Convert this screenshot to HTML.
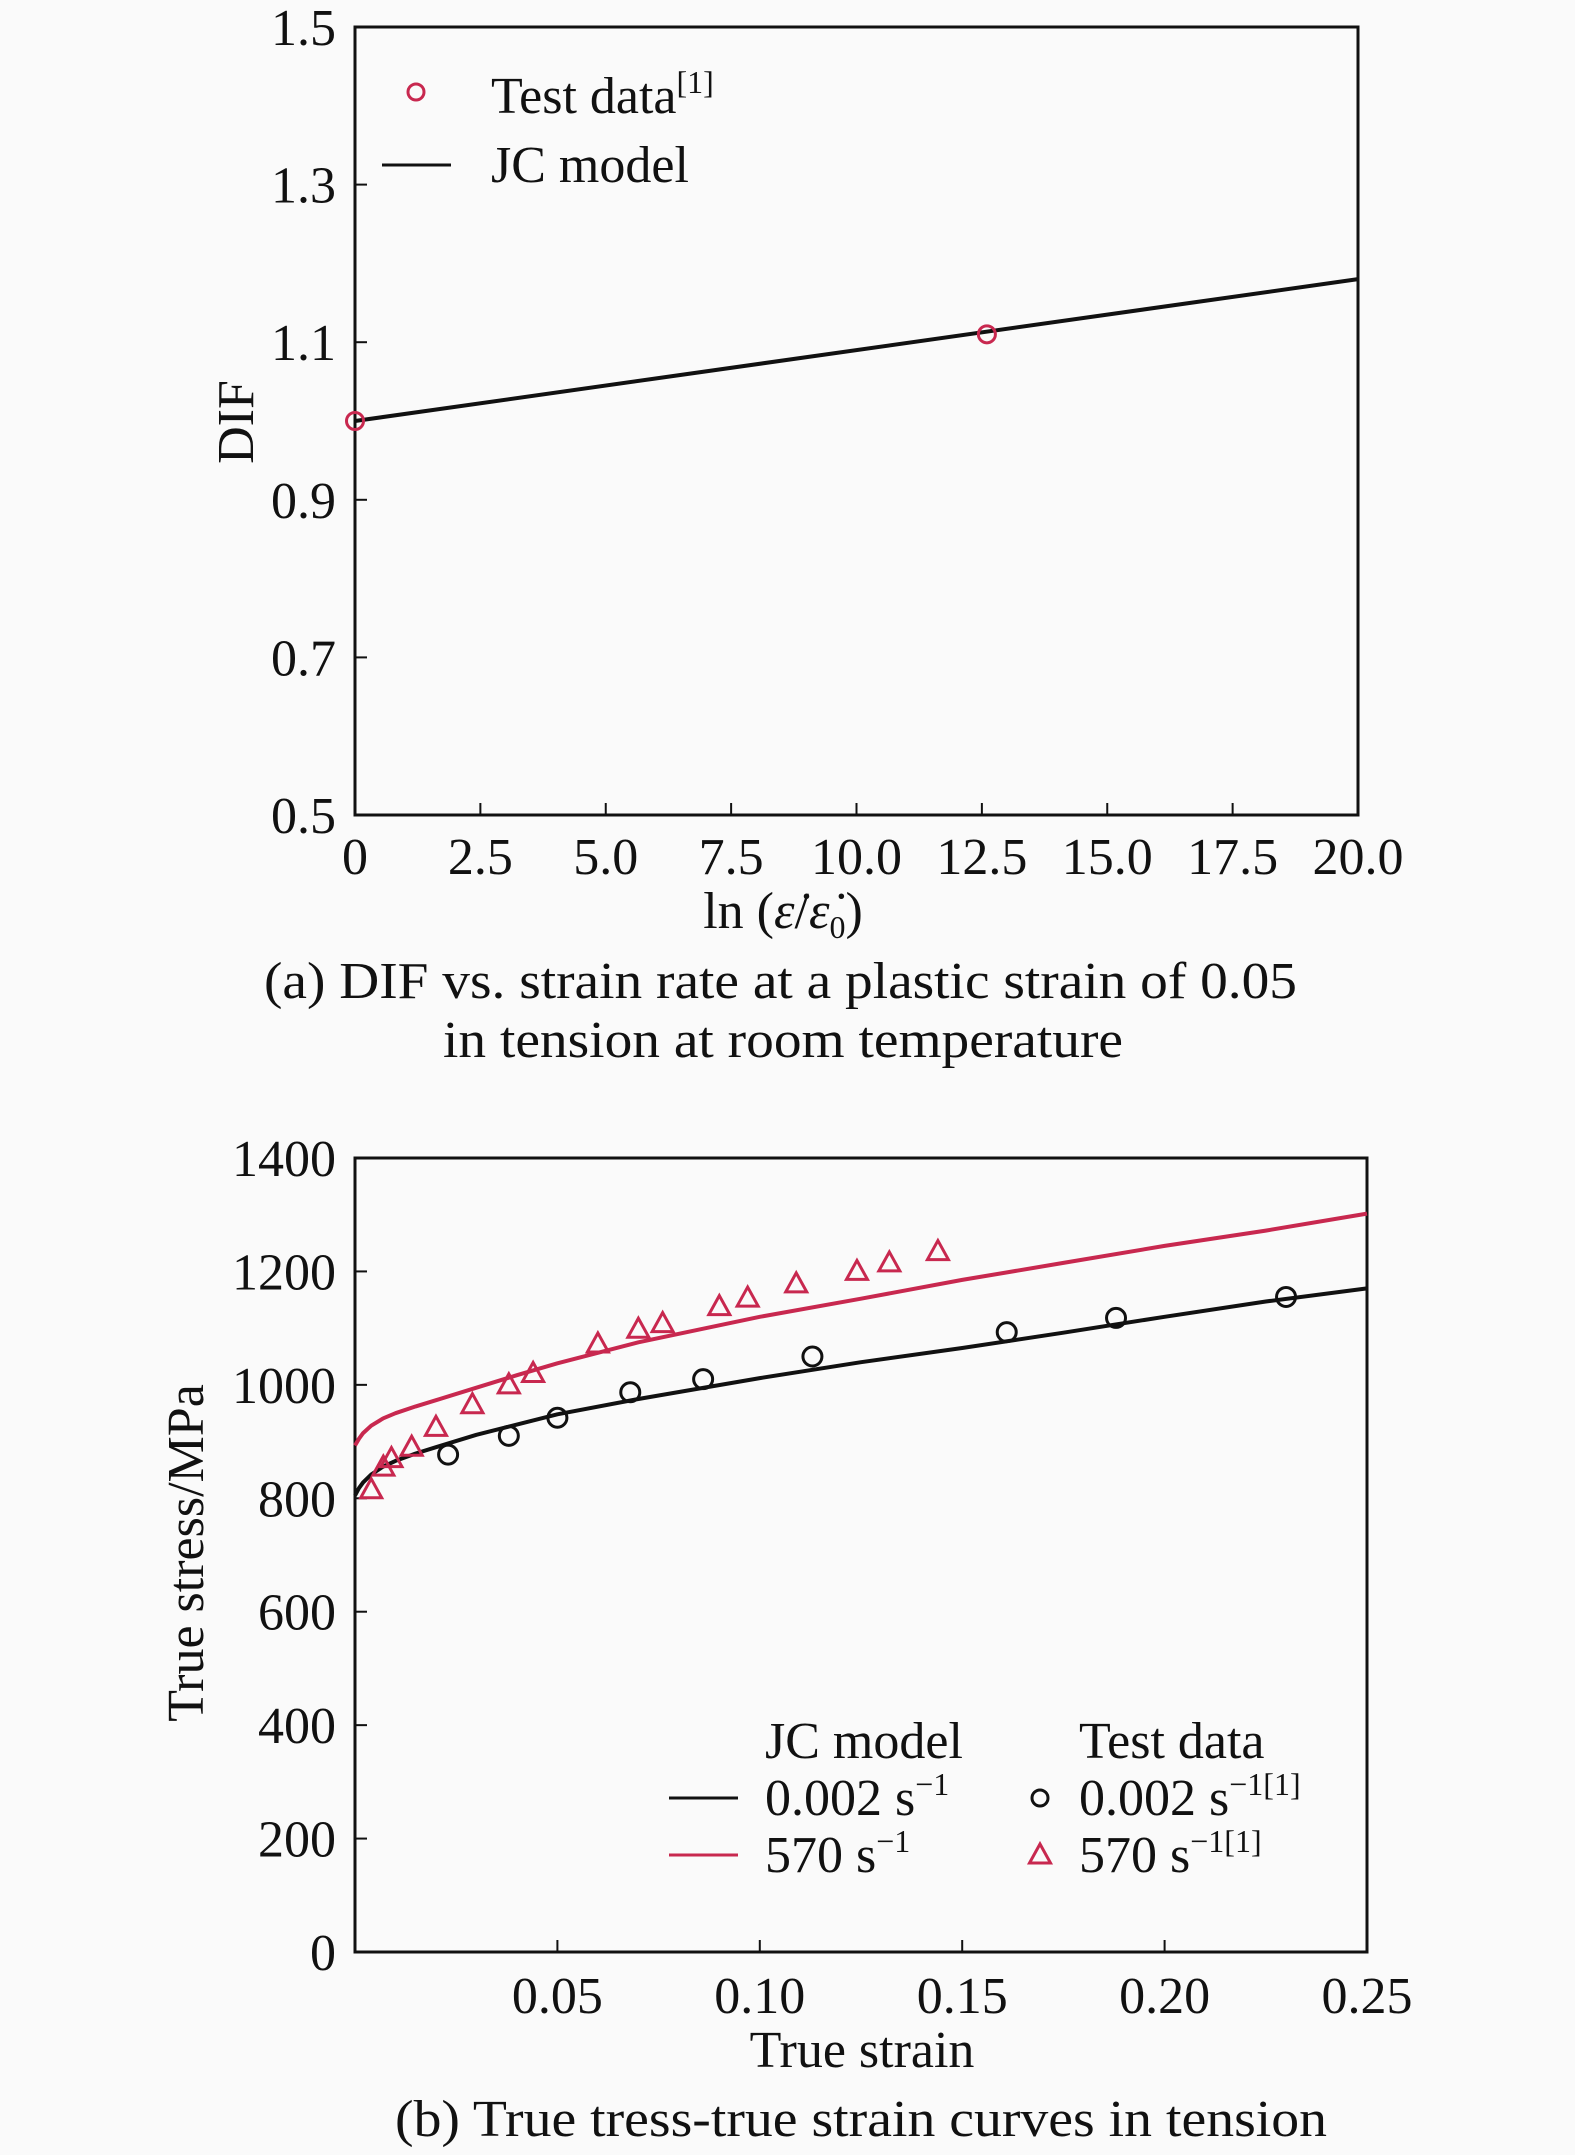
<!DOCTYPE html>
<html><head><meta charset="utf-8"><style>
html,body{margin:0;padding:0;background:#fafafa;}
svg{display:block;font-family:"Liberation Serif",serif;}
text{fill:#111;}
</style></head><body>
<svg id="fig" width="1575" height="2155" viewBox="0 0 1575 2155" xmlns="http://www.w3.org/2000/svg">
<rect width="1575" height="2155" fill="#fafafa"/>
<g id="chartA"></g>
<g id="chartB"></g>
</svg>
<script>
// ---- Chart A data ----
const aXTicks = [0, 2.5, 5, 7.5, 10, 12.5, 15, 17.5, 20];
const aXTickLabels = ["0", "2.5", "5.0", "7.5", "10.0", "12.5", "15.0", "17.5", "20.0"];
const aYTicks = [0.5, 0.7, 0.9, 1.1, 1.3, 1.5];
const aYTickLabels = ["0.5", "0.7", "0.9", "1.1", "1.3", "1.5"];
const aModelX = [0, 20];
const aModelY = [1.0, 1.18];
const aTestX = [0, 12.6];
const aTestY = [1.0, 1.11];

// ---- Chart B data ----
const bXTicks = [0.05, 0.10, 0.15, 0.20, 0.25];
const bXTickLabels = ["0.05", "0.10", "0.15", "0.20", "0.25"];
const bYTicks = [0, 200, 400, 600, 800, 1000, 1200, 1400];
const bYTickLabels = ["0", "200", "400", "600", "800", "1000", "1200", "1400"];
const bModelStrain = [0, 0.001, 0.002, 0.004, 0.007, 0.01, 0.015, 0.02, 0.03, 0.04, 0.05, 0.07, 0.1, 0.125, 0.15, 0.175, 0.2, 0.225, 0.25];
const bModelLow = [805, 818, 828, 842, 856, 866, 879, 890, 912, 930, 948, 975, 1012, 1040, 1065, 1092, 1120, 1147, 1170];
const bModelHigh = [893, 905, 915, 928, 941, 950, 962, 973, 995, 1017, 1038, 1075, 1120, 1152, 1185, 1215, 1245, 1272, 1302];
const bTestLowX = [0.023, 0.038, 0.05, 0.068, 0.086, 0.113, 0.161, 0.188, 0.23];
const bTestLowY = [877, 910, 942, 987, 1010, 1050, 1093, 1118, 1155];
const bTestHighX = [0.004, 0.007, 0.009, 0.014, 0.02, 0.029, 0.038, 0.044, 0.06, 0.07, 0.076, 0.09, 0.097, 0.109, 0.124, 0.132, 0.144];
const bTestHighY = [815, 855, 870, 890, 925, 965, 1000, 1020, 1072, 1098, 1108, 1138, 1153, 1178, 1200, 1215, 1235];

const NS = "http://www.w3.org/2000/svg";
const RED = "#c8284f";
function mk(parent, tag, attrs, txt) {
  const e = document.createElementNS(NS, tag);
  for (const k in attrs) e.setAttribute(k, attrs[k]);
  if (txt !== undefined) e.textContent = txt;
  parent.appendChild(e);
  return e;
}
function lin(d0, d1, r0, r1) { return v => r0 + (v - d0) * (r1 - r0) / (d1 - d0); }

// ===== Chart A =====
(function () {
  const g = document.getElementById('chartA');
  const L = 355, R = 1358, T = 27, B = 815;
  const sx = lin(0, 20, L, R), sy = lin(0.5, 1.5, B, T);
  const frame = mk(g, 'rect', {x: L, y: T, width: R - L, height: B - T, fill: 'none', stroke: '#111', 'stroke-width': 3});
  
  
  aXTicks.forEach((v, i) => {
    const t = mk(g, 'line', {x1: sx(v), x2: sx(v), y1: B, y2: B - 12, stroke: '#111', 'stroke-width': 2});
    
    
    const lb = mk(g, 'text', {x: sx(v), y: 874, 'font-size': 52, 'text-anchor': 'middle'}, aXTickLabels[i]);
    
    
  });
  aYTicks.forEach((v, i) => {
    const t = mk(g, 'line', {x1: L, x2: L + 12, y1: sy(v), y2: sy(v), stroke: '#111', 'stroke-width': 2});
    
    
    const lb = mk(g, 'text', {x: 336, y: sy(v) + 18, 'font-size': 52, 'text-anchor': 'end'}, aYTickLabels[i]);
    
    
  });
  const ln = mk(g, 'line', {x1: sx(aModelX[0]), y1: sy(aModelY[0]), x2: sx(aModelX[1]), y2: sy(aModelY[1]), stroke: '#111', 'stroke-width': 4});
  
  
  aTestX.forEach((v, i) => {
    const c = mk(g, 'circle', {cx: sx(v), cy: sy(aTestY[i]), r: 8.5, fill: 'none', stroke: RED, 'stroke-width': 3});
    
    
  });
  const lc = mk(g, 'circle', {cx: 416, cy: 92, r: 8, fill: 'none', stroke: RED, 'stroke-width': 3});
  
  
  const lt = mk(g, 'text', {x: 491, y: 113, 'font-size': 52}, 'Test data');
  
  
  mk(lt, 'tspan', {'font-size': 32, dy: -20}, '[1]');
  const ll = mk(g, 'line', {x1: 382, x2: 451, y1: 165, y2: 165, stroke: '#111', 'stroke-width': 3});
  
  
  const ltx = mk(g, 'text', {x: 491, y: 182, 'font-size': 52}, 'JC model');
  
  
  const yt = mk(g, 'text', {x: 0, y: 0, 'font-size': 52, 'text-anchor': 'middle', transform: 'translate(253,422) rotate(-90)'}, 'DIF');
  
  
  const xt = mk(g, 'text', {x: 783, y: 928, 'font-size': 52, 'text-anchor': 'middle'});
  
  
  xt.innerHTML = 'ln (<tspan font-style="italic">ε̇</tspan>/<tspan font-style="italic">ε̇</tspan><tspan font-size="32" dy="10">0</tspan><tspan dy="-10">)</tspan>';
  const c1 = mk(g, 'text', {x: 264, y: 998, 'font-size': 52, textLength: 1033, lengthAdjust: 'spacingAndGlyphs'}, '(a) DIF vs. strain rate at a plastic strain of 0.05');
  
  
  const c2 = mk(g, 'text', {x: 443, y: 1057, 'font-size': 52, textLength: 680, lengthAdjust: 'spacingAndGlyphs'}, 'in tension at room temperature');
  
  
})();

// ===== Chart B =====
(function () {
  const g = document.getElementById('chartB');
  const L = 355, R = 1367, T = 1158, B = 1952;
  const sx = lin(0, 0.25, L, R), sy = lin(0, 1400, B, T);
  const frame = mk(g, 'rect', {x: L, y: T, width: R - L, height: B - T, fill: 'none', stroke: '#111', 'stroke-width': 3});
  
  
  bXTicks.forEach((v, i) => {
    const t = mk(g, 'line', {x1: sx(v), x2: sx(v), y1: B, y2: B - 12, stroke: '#111', 'stroke-width': 2});
    
    
    const lb = mk(g, 'text', {x: sx(v), y: 2013, 'font-size': 52, 'text-anchor': 'middle'}, bXTickLabels[i]);
    
    
  });
  bYTicks.forEach((v, i) => {
    const t = mk(g, 'line', {x1: L, x2: L + 12, y1: sy(v), y2: sy(v), stroke: '#111', 'stroke-width': 2});
    
    
    const lb = mk(g, 'text', {x: 336, y: sy(v) + 18, 'font-size': 52, 'text-anchor': 'end'}, bYTickLabels[i]);
    
    
  });
  const pts = ys => bModelStrain.map((x, i) => sx(x).toFixed(1) + ',' + sy(ys[i]).toFixed(1)).join(' ');
  const p1 = mk(g, 'polyline', {points: pts(bModelLow), fill: 'none', stroke: '#111', 'stroke-width': 4, 'stroke-linejoin': 'round'});
  
  
  const p2 = mk(g, 'polyline', {points: pts(bModelHigh), fill: 'none', stroke: RED, 'stroke-width': 4, 'stroke-linejoin': 'round'});
  
  
  bTestLowX.forEach((v, i) => {
    const c = mk(g, 'circle', {cx: sx(v), cy: sy(bTestLowY[i]), r: 9.5, fill: 'none', stroke: '#111', 'stroke-width': 3});
    
    
  });
  const tri = (x, y) => `${x},${y - 11} ${x - 10.5},${y + 8} ${x + 10.5},${y + 8}`;
  bTestHighX.forEach((v, i) => {
    const t = mk(g, 'polygon', {points: tri(sx(v), sy(bTestHighY[i])), fill: 'none', stroke: RED, 'stroke-width': 3});
    
    
  });
  const h1 = mk(g, 'text', {x: 765, y: 1758, 'font-size': 52}, 'JC model');
  
  
  const h2 = mk(g, 'text', {x: 1079, y: 1758, 'font-size': 52}, 'Test data');
  
  
  const l1 = mk(g, 'line', {x1: 669, x2: 738, y1: 1798, y2: 1798, stroke: '#111', 'stroke-width': 3});
  
  
  const l2 = mk(g, 'line', {x1: 669, x2: 738, y1: 1855, y2: 1855, stroke: RED, 'stroke-width': 3});
  
  
  const t1 = mk(g, 'text', {x: 765, y: 1815, 'font-size': 52});
  
  
  t1.innerHTML = '0.002 s<tspan font-size="32" dy="-20">−1</tspan>';
  const t2 = mk(g, 'text', {x: 765, y: 1872, 'font-size': 52});
  
  
  t2.innerHTML = '570 s<tspan font-size="32" dy="-20">−1</tspan>';
  const m1 = mk(g, 'circle', {cx: 1040, cy: 1798, r: 8, fill: 'none', stroke: '#111', 'stroke-width': 3});
  
  
  const m2 = mk(g, 'polygon', {points: tri(1040, 1855), fill: 'none', stroke: RED, 'stroke-width': 3});
  
  
  const t3 = mk(g, 'text', {x: 1079, y: 1815, 'font-size': 52});
  
  
  t3.innerHTML = '0.002 s<tspan font-size="32" dy="-20">−1[1]</tspan>';
  const t4 = mk(g, 'text', {x: 1079, y: 1872, 'font-size': 52});
  
  
  t4.innerHTML = '570 s<tspan font-size="32" dy="-20">−1[1]</tspan>';
  const yt = mk(g, 'text', {x: 0, y: 0, 'font-size': 52, 'text-anchor': 'middle', transform: 'translate(203,1553) rotate(-90)'}, 'True stress/MPa');
  
  
  const xt = mk(g, 'text', {x: 862, y: 2067, 'font-size': 52, 'text-anchor': 'middle'}, 'True strain');
  
  
  const cap = mk(g, 'text', {x: 395, y: 2136, 'font-size': 52, textLength: 932, lengthAdjust: 'spacingAndGlyphs'}, '(b) True tress-true strain curves in tension');
  
  
})();
</script>
</body></html>
